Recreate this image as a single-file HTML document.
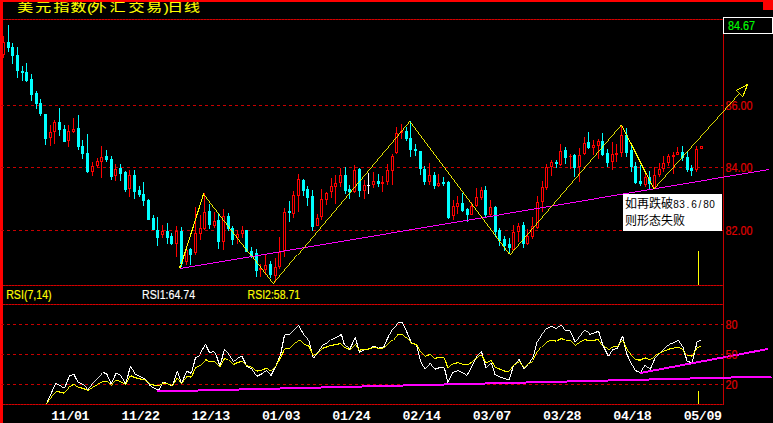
<!DOCTYPE html>
<html lang="zh"><head><meta charset="utf-8"><title>美元指数(外汇交易)日线</title>
<style>
html,body{margin:0;padding:0;background:#000;}
body{width:773px;height:423px;overflow:hidden;font-family:"Liberation Sans",sans-serif;position:relative;}
svg{display:block;position:absolute;left:0;top:0;}
</style></head><body>
<svg width="773" height="423" viewBox="0 0 773 423">
<g shape-rendering="crispEdges">
<rect width="773" height="423" fill="#000"/>
<rect x="0" y="0" width="773" height="2" fill="#ff0000"/>
<rect x="0" y="0" width="3" height="423" fill="#ff0000"/>
<rect x="763" y="0" width="10" height="10" fill="#ff0000"/>
<line x1="1" y1="105.5" x2="723" y2="105.5" stroke="#c80000" stroke-width="1" stroke-dasharray="3 3" stroke-dashoffset="0"/>
<line x1="1" y1="167.5" x2="723" y2="167.5" stroke="#c80000" stroke-width="1" stroke-dasharray="3 3" stroke-dashoffset="0"/>
<line x1="1" y1="230.5" x2="723" y2="230.5" stroke="#c80000" stroke-width="1" stroke-dasharray="3 3" stroke-dashoffset="0"/>
<line x1="1" y1="324.5" x2="723" y2="324.5" stroke="#c80000" stroke-width="1" stroke-dasharray="3 3" stroke-dashoffset="0"/>
<line x1="1" y1="354.5" x2="723" y2="354.5" stroke="#c80000" stroke-width="1" stroke-dasharray="3 3" stroke-dashoffset="0"/>
<line x1="1" y1="384.5" x2="723" y2="384.5" stroke="#c80000" stroke-width="1" stroke-dasharray="3 3" stroke-dashoffset="0"/>
<line x1="3" y1="19.5" x2="723" y2="19.5" stroke="#980000" stroke-width="1"/>
<line x1="3" y1="19.5" x2="723" y2="19.5" stroke="#d40000" stroke-width="1" stroke-dasharray="2 1"/>
<line x1="3" y1="285.5" x2="723" y2="285.5" stroke="#980000" stroke-width="1"/>
<line x1="3" y1="285.5" x2="723" y2="285.5" stroke="#d40000" stroke-width="1" stroke-dasharray="2 1"/>
<line x1="3" y1="304.5" x2="723" y2="304.5" stroke="#980000" stroke-width="1"/>
<line x1="3" y1="304.5" x2="723" y2="304.5" stroke="#d40000" stroke-width="1" stroke-dasharray="2 1"/>
<line x1="3" y1="404.5" x2="723" y2="404.5" stroke="#980000" stroke-width="1"/>
<line x1="3" y1="404.5" x2="723" y2="404.5" stroke="#d40000" stroke-width="1" stroke-dasharray="2 1"/>
<rect x="723" y="19" width="1" height="386" fill="#c80000"/>
<rect x="3" y="36" width="1" height="6" fill="#ff0000"/>
<rect x="3" y="55" width="1" height="3" fill="#ff0000"/>
<rect x="2" y="42" width="3" height="13" fill="#ff0000"/>
<rect x="3" y="43" width="1" height="11" fill="#000"/>
<rect x="8" y="25" width="1" height="27" fill="#00ffff"/>
<rect x="7" y="42" width="3" height="6" fill="#00ffff"/>
<rect x="12" y="43" width="1" height="21" fill="#00ffff"/>
<rect x="11" y="47" width="3" height="9" fill="#00ffff"/>
<rect x="17" y="47" width="1" height="31" fill="#00ffff"/>
<rect x="16" y="55" width="3" height="16" fill="#00ffff"/>
<rect x="22" y="66" width="1" height="15" fill="#00ffff"/>
<rect x="21" y="71" width="3" height="2" fill="#00ffff"/>
<rect x="26" y="63" width="1" height="19" fill="#00ffff"/>
<rect x="25" y="72" width="3" height="9" fill="#00ffff"/>
<rect x="31" y="74" width="1" height="27" fill="#00ffff"/>
<rect x="30" y="79" width="3" height="16" fill="#00ffff"/>
<rect x="36" y="91" width="1" height="18" fill="#00ffff"/>
<rect x="35" y="93" width="3" height="11" fill="#00ffff"/>
<rect x="40" y="99" width="1" height="17" fill="#00ffff"/>
<rect x="39" y="103" width="3" height="11" fill="#00ffff"/>
<rect x="45" y="114" width="1" height="31" fill="#00ffff"/>
<rect x="44" y="114" width="3" height="25" fill="#00ffff"/>
<rect x="50" y="125" width="1" height="7" fill="#ff0000"/>
<rect x="50" y="138" width="1" height="8" fill="#ff0000"/>
<rect x="49" y="132" width="3" height="6" fill="#ff0000"/>
<rect x="50" y="133" width="1" height="4" fill="#000"/>
<rect x="54" y="120" width="1" height="2" fill="#ff0000"/>
<rect x="54" y="132" width="1" height="12" fill="#ff0000"/>
<rect x="53" y="122" width="3" height="10" fill="#ff0000"/>
<rect x="54" y="123" width="1" height="8" fill="#000"/>
<rect x="59" y="108" width="1" height="28" fill="#00ffff"/>
<rect x="58" y="122" width="3" height="8" fill="#00ffff"/>
<rect x="64" y="125" width="1" height="17" fill="#00ffff"/>
<rect x="63" y="129" width="3" height="13" fill="#00ffff"/>
<rect x="68" y="125" width="1" height="6" fill="#ff0000"/>
<rect x="68" y="141" width="1" height="6" fill="#ff0000"/>
<rect x="67" y="131" width="3" height="10" fill="#ff0000"/>
<rect x="68" y="132" width="1" height="8" fill="#000"/>
<rect x="73" y="118" width="1" height="11" fill="#ff0000"/>
<rect x="73" y="132" width="1" height="1" fill="#ff0000"/>
<rect x="72" y="129" width="3" height="3" fill="#ff0000"/>
<rect x="73" y="130" width="1" height="1" fill="#000"/>
<rect x="78" y="115" width="1" height="35" fill="#00ffff"/>
<rect x="77" y="128" width="3" height="19" fill="#00ffff"/>
<rect x="82" y="140" width="1" height="19" fill="#00ffff"/>
<rect x="81" y="146" width="3" height="8" fill="#00ffff"/>
<rect x="87" y="134" width="1" height="39" fill="#00ffff"/>
<rect x="86" y="153" width="3" height="19" fill="#00ffff"/>
<rect x="92" y="162" width="1" height="4" fill="#ff0000"/>
<rect x="92" y="172" width="1" height="4" fill="#ff0000"/>
<rect x="91" y="166" width="3" height="6" fill="#ff0000"/>
<rect x="92" y="167" width="1" height="4" fill="#000"/>
<rect x="97" y="158" width="1" height="3" fill="#ff0000"/>
<rect x="97" y="166" width="1" height="2" fill="#ff0000"/>
<rect x="96" y="161" width="3" height="5" fill="#ff0000"/>
<rect x="97" y="162" width="1" height="3" fill="#000"/>
<rect x="101" y="146" width="1" height="11" fill="#ff0000"/>
<rect x="101" y="162" width="1" height="16" fill="#ff0000"/>
<rect x="100" y="157" width="3" height="5" fill="#ff0000"/>
<rect x="101" y="158" width="1" height="3" fill="#000"/>
<rect x="106" y="150" width="1" height="12" fill="#00ffff"/>
<rect x="105" y="156" width="3" height="4" fill="#00ffff"/>
<rect x="111" y="156" width="1" height="24" fill="#00ffff"/>
<rect x="110" y="159" width="3" height="18" fill="#00ffff"/>
<rect x="115" y="164" width="1" height="5" fill="#ff0000"/>
<rect x="115" y="176" width="1" height="5" fill="#ff0000"/>
<rect x="114" y="169" width="3" height="7" fill="#ff0000"/>
<rect x="115" y="170" width="1" height="5" fill="#000"/>
<rect x="120" y="164" width="1" height="17" fill="#00ffff"/>
<rect x="119" y="168" width="3" height="6" fill="#00ffff"/>
<rect x="125" y="171" width="1" height="21" fill="#00ffff"/>
<rect x="124" y="172" width="3" height="18" fill="#00ffff"/>
<rect x="129" y="170" width="1" height="5" fill="#ff0000"/>
<rect x="129" y="189" width="1" height="8" fill="#ff0000"/>
<rect x="128" y="175" width="3" height="14" fill="#ff0000"/>
<rect x="129" y="176" width="1" height="12" fill="#000"/>
<rect x="134" y="170" width="1" height="29" fill="#00ffff"/>
<rect x="133" y="175" width="3" height="17" fill="#00ffff"/>
<rect x="139" y="186" width="1" height="11" fill="#00ffff"/>
<rect x="138" y="190" width="3" height="5" fill="#00ffff"/>
<rect x="143" y="182" width="1" height="24" fill="#00ffff"/>
<rect x="142" y="194" width="3" height="7" fill="#00ffff"/>
<rect x="148" y="199" width="1" height="21" fill="#00ffff"/>
<rect x="147" y="200" width="3" height="20" fill="#00ffff"/>
<rect x="153" y="215" width="1" height="15" fill="#00ffff"/>
<rect x="152" y="218" width="3" height="12" fill="#00ffff"/>
<rect x="157" y="217" width="1" height="29" fill="#00ffff"/>
<rect x="156" y="230" width="3" height="8" fill="#00ffff"/>
<rect x="162" y="225" width="1" height="6" fill="#ff0000"/>
<rect x="162" y="235" width="1" height="3" fill="#ff0000"/>
<rect x="161" y="231" width="3" height="4" fill="#ff0000"/>
<rect x="162" y="232" width="1" height="2" fill="#000"/>
<rect x="167" y="223" width="1" height="21" fill="#00ffff"/>
<rect x="166" y="231" width="3" height="7" fill="#00ffff"/>
<rect x="171" y="233" width="1" height="12" fill="#00ffff"/>
<rect x="170" y="236" width="3" height="8" fill="#00ffff"/>
<rect x="176" y="226" width="1" height="5" fill="#ff0000"/>
<rect x="176" y="244" width="1" height="13" fill="#ff0000"/>
<rect x="175" y="231" width="3" height="13" fill="#ff0000"/>
<rect x="176" y="232" width="1" height="11" fill="#000"/>
<rect x="181" y="227" width="1" height="40" fill="#00ffff"/>
<rect x="180" y="231" width="3" height="33" fill="#00ffff"/>
<rect x="186" y="248" width="1" height="2" fill="#ff0000"/>
<rect x="186" y="262" width="1" height="3" fill="#ff0000"/>
<rect x="185" y="250" width="3" height="12" fill="#ff0000"/>
<rect x="186" y="251" width="1" height="10" fill="#000"/>
<rect x="190" y="248" width="1" height="17" fill="#00ffff"/>
<rect x="189" y="249" width="3" height="6" fill="#00ffff"/>
<rect x="195" y="207" width="1" height="26" fill="#ff0000"/>
<rect x="195" y="253" width="1" height="2" fill="#ff0000"/>
<rect x="194" y="233" width="3" height="20" fill="#ff0000"/>
<rect x="195" y="234" width="1" height="18" fill="#000"/>
<rect x="200" y="215" width="1" height="13" fill="#ff0000"/>
<rect x="200" y="234" width="1" height="6" fill="#ff0000"/>
<rect x="199" y="228" width="3" height="6" fill="#ff0000"/>
<rect x="200" y="229" width="1" height="4" fill="#000"/>
<rect x="204" y="193" width="1" height="19" fill="#ff0000"/>
<rect x="204" y="229" width="1" height="1" fill="#ff0000"/>
<rect x="203" y="212" width="3" height="17" fill="#ff0000"/>
<rect x="204" y="213" width="1" height="15" fill="#000"/>
<rect x="209" y="204" width="1" height="25" fill="#00ffff"/>
<rect x="208" y="211" width="3" height="14" fill="#00ffff"/>
<rect x="214" y="212" width="1" height="9" fill="#ff0000"/>
<rect x="214" y="226" width="1" height="2" fill="#ff0000"/>
<rect x="213" y="221" width="3" height="5" fill="#ff0000"/>
<rect x="214" y="222" width="1" height="3" fill="#000"/>
<rect x="218" y="213" width="1" height="36" fill="#00ffff"/>
<rect x="217" y="220" width="3" height="22" fill="#00ffff"/>
<rect x="223" y="209" width="1" height="7" fill="#ff0000"/>
<rect x="223" y="242" width="1" height="8" fill="#ff0000"/>
<rect x="222" y="216" width="3" height="26" fill="#ff0000"/>
<rect x="223" y="217" width="1" height="24" fill="#000"/>
<rect x="228" y="213" width="1" height="18" fill="#00ffff"/>
<rect x="227" y="216" width="3" height="13" fill="#00ffff"/>
<rect x="232" y="226" width="1" height="19" fill="#00ffff"/>
<rect x="231" y="228" width="3" height="12" fill="#00ffff"/>
<rect x="237" y="230" width="1" height="4" fill="#ff0000"/>
<rect x="237" y="238" width="1" height="6" fill="#ff0000"/>
<rect x="236" y="234" width="3" height="4" fill="#ff0000"/>
<rect x="237" y="235" width="1" height="2" fill="#000"/>
<rect x="242" y="226" width="1" height="4" fill="#ff0000"/>
<rect x="242" y="234" width="1" height="4" fill="#ff0000"/>
<rect x="241" y="230" width="3" height="4" fill="#ff0000"/>
<rect x="242" y="231" width="1" height="2" fill="#000"/>
<rect x="246" y="230" width="1" height="22" fill="#00ffff"/>
<rect x="245" y="230" width="3" height="22" fill="#00ffff"/>
<rect x="251" y="247" width="1" height="11" fill="#00ffff"/>
<rect x="250" y="251" width="3" height="5" fill="#00ffff"/>
<rect x="256" y="249" width="1" height="28" fill="#00ffff"/>
<rect x="255" y="253" width="3" height="18" fill="#00ffff"/>
<rect x="260" y="264" width="1" height="13" fill="#ff0000"/>
<rect x="259" y="268" width="3" height="2" fill="#ff0000"/>
<rect x="265" y="255" width="1" height="10" fill="#ff0000"/>
<rect x="265" y="270" width="1" height="5" fill="#ff0000"/>
<rect x="264" y="265" width="3" height="5" fill="#ff0000"/>
<rect x="265" y="266" width="1" height="3" fill="#000"/>
<rect x="270" y="261" width="1" height="17" fill="#00ffff"/>
<rect x="269" y="264" width="3" height="11" fill="#00ffff"/>
<rect x="275" y="258" width="1" height="9" fill="#ff0000"/>
<rect x="275" y="276" width="1" height="6" fill="#ff0000"/>
<rect x="274" y="267" width="3" height="9" fill="#ff0000"/>
<rect x="275" y="268" width="1" height="7" fill="#000"/>
<rect x="279" y="237" width="1" height="15" fill="#ff0000"/>
<rect x="279" y="267" width="1" height="2" fill="#ff0000"/>
<rect x="278" y="252" width="3" height="15" fill="#ff0000"/>
<rect x="279" y="253" width="1" height="13" fill="#000"/>
<rect x="284" y="208" width="1" height="4" fill="#ff0000"/>
<rect x="284" y="251" width="1" height="6" fill="#ff0000"/>
<rect x="283" y="212" width="3" height="39" fill="#ff0000"/>
<rect x="284" y="213" width="1" height="37" fill="#000"/>
<rect x="289" y="201" width="1" height="21" fill="#00ffff"/>
<rect x="288" y="211" width="3" height="2" fill="#00ffff"/>
<rect x="293" y="191" width="1" height="4" fill="#ff0000"/>
<rect x="293" y="214" width="1" height="4" fill="#ff0000"/>
<rect x="292" y="195" width="3" height="19" fill="#ff0000"/>
<rect x="293" y="196" width="1" height="17" fill="#000"/>
<rect x="298" y="174" width="1" height="5" fill="#ff0000"/>
<rect x="298" y="196" width="1" height="16" fill="#ff0000"/>
<rect x="297" y="179" width="3" height="17" fill="#ff0000"/>
<rect x="298" y="180" width="1" height="15" fill="#000"/>
<rect x="303" y="179" width="1" height="17" fill="#00ffff"/>
<rect x="302" y="180" width="3" height="11" fill="#00ffff"/>
<rect x="307" y="186" width="1" height="20" fill="#00ffff"/>
<rect x="306" y="189" width="3" height="9" fill="#00ffff"/>
<rect x="312" y="190" width="1" height="41" fill="#00ffff"/>
<rect x="311" y="196" width="3" height="31" fill="#00ffff"/>
<rect x="317" y="214" width="1" height="4" fill="#ff0000"/>
<rect x="316" y="218" width="3" height="8" fill="#ff0000"/>
<rect x="317" y="219" width="1" height="6" fill="#000"/>
<rect x="321" y="189" width="1" height="10" fill="#ff0000"/>
<rect x="321" y="217" width="1" height="3" fill="#ff0000"/>
<rect x="320" y="199" width="3" height="18" fill="#ff0000"/>
<rect x="321" y="200" width="1" height="16" fill="#000"/>
<rect x="326" y="192" width="1" height="1" fill="#ff0000"/>
<rect x="326" y="200" width="1" height="5" fill="#ff0000"/>
<rect x="325" y="193" width="3" height="7" fill="#ff0000"/>
<rect x="326" y="194" width="1" height="5" fill="#000"/>
<rect x="331" y="178" width="1" height="8" fill="#ff0000"/>
<rect x="331" y="192" width="1" height="6" fill="#ff0000"/>
<rect x="330" y="186" width="3" height="6" fill="#ff0000"/>
<rect x="331" y="187" width="1" height="4" fill="#000"/>
<rect x="335" y="175" width="1" height="8" fill="#ff0000"/>
<rect x="335" y="187" width="1" height="17" fill="#ff0000"/>
<rect x="334" y="183" width="3" height="4" fill="#ff0000"/>
<rect x="335" y="184" width="1" height="2" fill="#000"/>
<rect x="340" y="168" width="1" height="7" fill="#ff0000"/>
<rect x="340" y="183" width="1" height="4" fill="#ff0000"/>
<rect x="339" y="175" width="3" height="8" fill="#ff0000"/>
<rect x="340" y="176" width="1" height="6" fill="#000"/>
<rect x="345" y="167" width="1" height="27" fill="#00ffff"/>
<rect x="344" y="175" width="3" height="16" fill="#00ffff"/>
<rect x="349" y="185" width="1" height="14" fill="#00ffff"/>
<rect x="348" y="189" width="3" height="3" fill="#00ffff"/>
<rect x="354" y="165" width="1" height="5" fill="#ff0000"/>
<rect x="354" y="192" width="1" height="1" fill="#ff0000"/>
<rect x="353" y="170" width="3" height="22" fill="#ff0000"/>
<rect x="354" y="171" width="1" height="20" fill="#000"/>
<rect x="359" y="168" width="1" height="29" fill="#00ffff"/>
<rect x="358" y="169" width="3" height="22" fill="#00ffff"/>
<rect x="364" y="180" width="1" height="5" fill="#ff0000"/>
<rect x="364" y="191" width="1" height="8" fill="#ff0000"/>
<rect x="363" y="185" width="3" height="6" fill="#ff0000"/>
<rect x="364" y="186" width="1" height="4" fill="#000"/>
<rect x="368" y="173" width="1" height="21" fill="#ffffff"/>
<rect x="367" y="185" width="3" height="1" fill="#ffffff"/>
<rect x="373" y="172" width="1" height="9" fill="#ff0000"/>
<rect x="373" y="185" width="1" height="3" fill="#ff0000"/>
<rect x="372" y="181" width="3" height="4" fill="#ff0000"/>
<rect x="373" y="182" width="1" height="2" fill="#000"/>
<rect x="378" y="174" width="1" height="13" fill="#00ffff"/>
<rect x="377" y="181" width="3" height="3" fill="#00ffff"/>
<rect x="382" y="176" width="1" height="16" fill="#ff0000"/>
<rect x="381" y="182" width="3" height="2" fill="#ff0000"/>
<rect x="387" y="164" width="1" height="6" fill="#ff0000"/>
<rect x="387" y="182" width="1" height="3" fill="#ff0000"/>
<rect x="386" y="170" width="3" height="12" fill="#ff0000"/>
<rect x="387" y="171" width="1" height="10" fill="#000"/>
<rect x="392" y="154" width="1" height="2" fill="#ff0000"/>
<rect x="392" y="171" width="1" height="14" fill="#ff0000"/>
<rect x="391" y="156" width="3" height="15" fill="#ff0000"/>
<rect x="392" y="157" width="1" height="13" fill="#000"/>
<rect x="396" y="127" width="1" height="6" fill="#ff0000"/>
<rect x="396" y="153" width="1" height="1" fill="#ff0000"/>
<rect x="395" y="133" width="3" height="20" fill="#ff0000"/>
<rect x="396" y="134" width="1" height="18" fill="#000"/>
<rect x="401" y="124" width="1" height="15" fill="#ff0000"/>
<rect x="400" y="131" width="3" height="2" fill="#ff0000"/>
<rect x="406" y="127" width="1" height="14" fill="#00ffff"/>
<rect x="405" y="131" width="3" height="8" fill="#00ffff"/>
<rect x="410" y="121" width="1" height="36" fill="#00ffff"/>
<rect x="409" y="138" width="3" height="12" fill="#00ffff"/>
<rect x="415" y="144" width="1" height="12" fill="#00ffff"/>
<rect x="414" y="149" width="3" height="2" fill="#00ffff"/>
<rect x="420" y="151" width="1" height="24" fill="#00ffff"/>
<rect x="419" y="151" width="3" height="18" fill="#00ffff"/>
<rect x="424" y="166" width="1" height="19" fill="#00ffff"/>
<rect x="423" y="169" width="3" height="13" fill="#00ffff"/>
<rect x="429" y="163" width="1" height="12" fill="#ff0000"/>
<rect x="429" y="182" width="1" height="3" fill="#ff0000"/>
<rect x="428" y="175" width="3" height="7" fill="#ff0000"/>
<rect x="429" y="176" width="1" height="5" fill="#000"/>
<rect x="434" y="172" width="1" height="17" fill="#00ffff"/>
<rect x="433" y="175" width="3" height="11" fill="#00ffff"/>
<rect x="438" y="174" width="1" height="9" fill="#ff0000"/>
<rect x="438" y="186" width="1" height="1" fill="#ff0000"/>
<rect x="437" y="183" width="3" height="3" fill="#ff0000"/>
<rect x="438" y="184" width="1" height="1" fill="#000"/>
<rect x="443" y="177" width="1" height="9" fill="#00ffff"/>
<rect x="442" y="182" width="3" height="2" fill="#00ffff"/>
<rect x="448" y="181" width="1" height="38" fill="#00ffff"/>
<rect x="447" y="182" width="3" height="36" fill="#00ffff"/>
<rect x="453" y="200" width="1" height="6" fill="#ff0000"/>
<rect x="453" y="216" width="1" height="4" fill="#ff0000"/>
<rect x="452" y="206" width="3" height="10" fill="#ff0000"/>
<rect x="453" y="207" width="1" height="8" fill="#000"/>
<rect x="457" y="196" width="1" height="7" fill="#ff0000"/>
<rect x="457" y="207" width="1" height="7" fill="#ff0000"/>
<rect x="456" y="203" width="3" height="4" fill="#ff0000"/>
<rect x="457" y="204" width="1" height="2" fill="#000"/>
<rect x="462" y="193" width="1" height="19" fill="#00ffff"/>
<rect x="461" y="203" width="3" height="8" fill="#00ffff"/>
<rect x="467" y="208" width="1" height="14" fill="#00ffff"/>
<rect x="466" y="209" width="3" height="6" fill="#00ffff"/>
<rect x="471" y="202" width="1" height="4" fill="#ff0000"/>
<rect x="470" y="206" width="3" height="9" fill="#ff0000"/>
<rect x="471" y="207" width="1" height="7" fill="#000"/>
<rect x="476" y="188" width="1" height="9" fill="#ff0000"/>
<rect x="476" y="206" width="1" height="1" fill="#ff0000"/>
<rect x="475" y="197" width="3" height="9" fill="#ff0000"/>
<rect x="476" y="198" width="1" height="7" fill="#000"/>
<rect x="481" y="187" width="1" height="3" fill="#ff0000"/>
<rect x="481" y="198" width="1" height="2" fill="#ff0000"/>
<rect x="480" y="190" width="3" height="8" fill="#ff0000"/>
<rect x="481" y="191" width="1" height="6" fill="#000"/>
<rect x="485" y="186" width="1" height="32" fill="#00ffff"/>
<rect x="484" y="190" width="3" height="25" fill="#00ffff"/>
<rect x="490" y="200" width="1" height="7" fill="#ff0000"/>
<rect x="490" y="215" width="1" height="1" fill="#ff0000"/>
<rect x="489" y="207" width="3" height="8" fill="#ff0000"/>
<rect x="490" y="208" width="1" height="6" fill="#000"/>
<rect x="495" y="206" width="1" height="31" fill="#00ffff"/>
<rect x="494" y="207" width="3" height="25" fill="#00ffff"/>
<rect x="499" y="228" width="1" height="18" fill="#00ffff"/>
<rect x="498" y="230" width="3" height="11" fill="#00ffff"/>
<rect x="504" y="236" width="1" height="15" fill="#00ffff"/>
<rect x="503" y="239" width="3" height="7" fill="#00ffff"/>
<rect x="509" y="238" width="1" height="15" fill="#00ffff"/>
<rect x="508" y="244" width="3" height="4" fill="#00ffff"/>
<rect x="513" y="225" width="1" height="7" fill="#ff0000"/>
<rect x="512" y="232" width="3" height="18" fill="#ff0000"/>
<rect x="513" y="233" width="1" height="16" fill="#000"/>
<rect x="518" y="223" width="1" height="3" fill="#ff0000"/>
<rect x="518" y="232" width="1" height="10" fill="#ff0000"/>
<rect x="517" y="226" width="3" height="6" fill="#ff0000"/>
<rect x="518" y="227" width="1" height="4" fill="#000"/>
<rect x="523" y="222" width="1" height="26" fill="#00ffff"/>
<rect x="522" y="225" width="3" height="19" fill="#00ffff"/>
<rect x="527" y="229" width="1" height="7" fill="#ff0000"/>
<rect x="527" y="244" width="1" height="1" fill="#ff0000"/>
<rect x="526" y="236" width="3" height="8" fill="#ff0000"/>
<rect x="527" y="237" width="1" height="6" fill="#000"/>
<rect x="532" y="217" width="1" height="9" fill="#ff0000"/>
<rect x="532" y="237" width="1" height="2" fill="#ff0000"/>
<rect x="531" y="226" width="3" height="11" fill="#ff0000"/>
<rect x="532" y="227" width="1" height="9" fill="#000"/>
<rect x="537" y="196" width="1" height="6" fill="#ff0000"/>
<rect x="537" y="228" width="1" height="1" fill="#ff0000"/>
<rect x="536" y="202" width="3" height="26" fill="#ff0000"/>
<rect x="537" y="203" width="1" height="24" fill="#000"/>
<rect x="542" y="181" width="1" height="6" fill="#ff0000"/>
<rect x="542" y="202" width="1" height="10" fill="#ff0000"/>
<rect x="541" y="187" width="3" height="15" fill="#ff0000"/>
<rect x="542" y="188" width="1" height="13" fill="#000"/>
<rect x="546" y="164" width="1" height="3" fill="#ff0000"/>
<rect x="546" y="188" width="1" height="2" fill="#ff0000"/>
<rect x="545" y="167" width="3" height="21" fill="#ff0000"/>
<rect x="546" y="168" width="1" height="19" fill="#000"/>
<rect x="551" y="160" width="1" height="2" fill="#ff0000"/>
<rect x="551" y="167" width="1" height="9" fill="#ff0000"/>
<rect x="550" y="162" width="3" height="5" fill="#ff0000"/>
<rect x="551" y="163" width="1" height="3" fill="#000"/>
<rect x="556" y="160" width="1" height="8" fill="#00ffff"/>
<rect x="555" y="162" width="3" height="2" fill="#00ffff"/>
<rect x="560" y="144" width="1" height="7" fill="#ff0000"/>
<rect x="560" y="165" width="1" height="1" fill="#ff0000"/>
<rect x="559" y="151" width="3" height="14" fill="#ff0000"/>
<rect x="560" y="152" width="1" height="12" fill="#000"/>
<rect x="565" y="147" width="1" height="17" fill="#00ffff"/>
<rect x="564" y="150" width="3" height="8" fill="#00ffff"/>
<rect x="570" y="154" width="1" height="15" fill="#ff0000"/>
<rect x="569" y="156" width="3" height="1" fill="#ff0000"/>
<rect x="574" y="154" width="1" height="23" fill="#00ffff"/>
<rect x="573" y="155" width="3" height="13" fill="#00ffff"/>
<rect x="579" y="148" width="1" height="7" fill="#ff0000"/>
<rect x="579" y="167" width="1" height="15" fill="#ff0000"/>
<rect x="578" y="155" width="3" height="12" fill="#ff0000"/>
<rect x="579" y="156" width="1" height="10" fill="#000"/>
<rect x="584" y="137" width="1" height="6" fill="#ff0000"/>
<rect x="584" y="154" width="1" height="1" fill="#ff0000"/>
<rect x="583" y="143" width="3" height="11" fill="#ff0000"/>
<rect x="584" y="144" width="1" height="9" fill="#000"/>
<rect x="588" y="132" width="1" height="17" fill="#00ffff"/>
<rect x="587" y="142" width="3" height="6" fill="#00ffff"/>
<rect x="593" y="140" width="1" height="5" fill="#ff0000"/>
<rect x="593" y="148" width="1" height="7" fill="#ff0000"/>
<rect x="592" y="145" width="3" height="3" fill="#ff0000"/>
<rect x="593" y="146" width="1" height="1" fill="#000"/>
<rect x="598" y="139" width="1" height="2" fill="#ff0000"/>
<rect x="598" y="146" width="1" height="13" fill="#ff0000"/>
<rect x="597" y="141" width="3" height="5" fill="#ff0000"/>
<rect x="598" y="142" width="1" height="3" fill="#000"/>
<rect x="602" y="133" width="1" height="23" fill="#00ffff"/>
<rect x="601" y="141" width="3" height="14" fill="#00ffff"/>
<rect x="607" y="149" width="1" height="18" fill="#00ffff"/>
<rect x="606" y="153" width="3" height="10" fill="#00ffff"/>
<rect x="612" y="142" width="1" height="12" fill="#ff0000"/>
<rect x="612" y="162" width="1" height="8" fill="#ff0000"/>
<rect x="611" y="154" width="3" height="8" fill="#ff0000"/>
<rect x="612" y="155" width="1" height="6" fill="#000"/>
<rect x="616" y="144" width="1" height="18" fill="#ff0000"/>
<rect x="615" y="153" width="3" height="2" fill="#ff0000"/>
<rect x="621" y="125" width="1" height="10" fill="#ff0000"/>
<rect x="621" y="153" width="1" height="4" fill="#ff0000"/>
<rect x="620" y="135" width="3" height="18" fill="#ff0000"/>
<rect x="621" y="136" width="1" height="16" fill="#000"/>
<rect x="626" y="128" width="1" height="29" fill="#00ffff"/>
<rect x="625" y="135" width="3" height="18" fill="#00ffff"/>
<rect x="631" y="145" width="1" height="27" fill="#00ffff"/>
<rect x="630" y="150" width="3" height="17" fill="#00ffff"/>
<rect x="635" y="162" width="1" height="22" fill="#00ffff"/>
<rect x="634" y="166" width="3" height="17" fill="#00ffff"/>
<rect x="640" y="165" width="1" height="21" fill="#00ffff"/>
<rect x="639" y="181" width="3" height="3" fill="#00ffff"/>
<rect x="645" y="174" width="1" height="3" fill="#ff0000"/>
<rect x="645" y="185" width="1" height="2" fill="#ff0000"/>
<rect x="644" y="177" width="3" height="8" fill="#ff0000"/>
<rect x="645" y="178" width="1" height="6" fill="#000"/>
<rect x="649" y="171" width="1" height="18" fill="#00ffff"/>
<rect x="648" y="177" width="3" height="7" fill="#00ffff"/>
<rect x="654" y="167" width="1" height="8" fill="#ff0000"/>
<rect x="653" y="175" width="3" height="13" fill="#ff0000"/>
<rect x="654" y="176" width="1" height="11" fill="#000"/>
<rect x="659" y="163" width="1" height="6" fill="#ff0000"/>
<rect x="659" y="175" width="1" height="2" fill="#ff0000"/>
<rect x="658" y="169" width="3" height="6" fill="#ff0000"/>
<rect x="659" y="170" width="1" height="4" fill="#000"/>
<rect x="663" y="156" width="1" height="7" fill="#ff0000"/>
<rect x="663" y="169" width="1" height="3" fill="#ff0000"/>
<rect x="662" y="163" width="3" height="6" fill="#ff0000"/>
<rect x="663" y="164" width="1" height="4" fill="#000"/>
<rect x="668" y="154" width="1" height="2" fill="#ff0000"/>
<rect x="668" y="163" width="1" height="3" fill="#ff0000"/>
<rect x="667" y="156" width="3" height="7" fill="#ff0000"/>
<rect x="668" y="157" width="1" height="5" fill="#000"/>
<rect x="673" y="152" width="1" height="22" fill="#ff0000"/>
<rect x="672" y="155" width="3" height="2" fill="#ff0000"/>
<rect x="677" y="147" width="1" height="5" fill="#ff0000"/>
<rect x="676" y="152" width="3" height="3" fill="#ff0000"/>
<rect x="677" y="153" width="1" height="1" fill="#000"/>
<rect x="682" y="146" width="1" height="15" fill="#00ffff"/>
<rect x="681" y="152" width="3" height="6" fill="#00ffff"/>
<rect x="687" y="151" width="1" height="21" fill="#00ffff"/>
<rect x="686" y="157" width="3" height="13" fill="#00ffff"/>
<rect x="691" y="165" width="1" height="11" fill="#00ffff"/>
<rect x="690" y="168" width="3" height="3" fill="#00ffff"/>
<rect x="696" y="146" width="1" height="3" fill="#ff0000"/>
<rect x="696" y="170" width="1" height="2" fill="#ff0000"/>
<rect x="695" y="149" width="3" height="21" fill="#ff0000"/>
<rect x="696" y="150" width="1" height="19" fill="#000"/>
<rect x="700" y="146" width="3" height="3" fill="#ff0000"/>
<rect x="701" y="147" width="1" height="1" fill="#000"/>
<line x1="180.3" y1="268.53" x2="768.7" y2="169.54" stroke="#ff00ff" stroke-width="0.986"/>
<line x1="180.3" y1="267.5" x2="203.7" y2="193.5" stroke="#ffff00" stroke-width="1.096"/>
<line x1="203.7" y1="193.5" x2="273.2" y2="283.5" stroke="#ffff00" stroke-width="0.910"/>
<line x1="273.2" y1="283.5" x2="409.8" y2="120.5" stroke="#ffff00" stroke-width="0.881"/>
<line x1="409.8" y1="120.5" x2="510.4" y2="254.5" stroke="#ffff00" stroke-width="0.920"/>
<line x1="510.4" y1="254.5" x2="621.5" y2="124.8" stroke="#ffff00" stroke-width="0.873"/>
<line x1="621.5" y1="124.8" x2="653.9" y2="189" stroke="#ffff00" stroke-width="1.027"/>
<rect x="179" y="266" width="2" height="2" fill="#ffff00"/>
<line x1="747.8" y1="84.4" x2="736.4" y2="90.5" stroke="#ffff00" stroke-width="1.014"/>
<line x1="736.4" y1="90.5" x2="742.6" y2="96.7" stroke="#ffff00" stroke-width="0.813"/>
<line x1="742.6" y1="96.7" x2="747.8" y2="84.4" stroke="#ffff00" stroke-width="1.059"/>
<rect x="698" y="251" width="1" height="34" fill="#ffff00"/>
<rect x="698" y="391" width="1" height="13" fill="#ffff00"/>
<rect x="623" y="194" width="99" height="37" fill="#ffffff"/>
<line x1="46.6" y1="403.7" x2="55.7" y2="383.3" stroke="#ffffff" stroke-width="1.050"/>
<line x1="55.7" y1="383.3" x2="60.3" y2="385.5" stroke="#ffffff" stroke-width="1.037"/>
<line x1="60.3" y1="385.5" x2="64.4" y2="388.3" stroke="#ffffff" stroke-width="0.950"/>
<line x1="64.4" y1="388.3" x2="69.4" y2="376" stroke="#ffffff" stroke-width="1.065"/>
<line x1="69.4" y1="376" x2="73.9" y2="374.4" stroke="#ffffff" stroke-width="1.084"/>
<line x1="73.9" y1="374.4" x2="78" y2="382.2" stroke="#ffffff" stroke-width="1.018"/>
<line x1="78" y1="382.2" x2="83" y2="384.3" stroke="#ffffff" stroke-width="1.060"/>
<line x1="83" y1="384.3" x2="88" y2="389.6" stroke="#ffffff" stroke-width="0.837"/>
<line x1="88" y1="389.6" x2="92.9" y2="383" stroke="#ffffff" stroke-width="0.923"/>
<line x1="92.9" y1="383" x2="97.9" y2="377.7" stroke="#ffffff" stroke-width="0.837"/>
<line x1="97.9" y1="377.7" x2="102.8" y2="372.7" stroke="#ffffff" stroke-width="0.821"/>
<line x1="102.8" y1="372.7" x2="106.5" y2="373.4" stroke="#ffffff" stroke-width="1.130"/>
<line x1="106.5" y1="373.4" x2="111.1" y2="383.8" stroke="#ffffff" stroke-width="1.052"/>
<line x1="111.1" y1="383.8" x2="116.1" y2="373.4" stroke="#ffffff" stroke-width="1.036"/>
<line x1="116.1" y1="373.4" x2="120.2" y2="374.7" stroke="#ffffff" stroke-width="1.096"/>
<line x1="120.2" y1="374.7" x2="125.7" y2="383.8" stroke="#ffffff" stroke-width="0.984"/>
<line x1="125.7" y1="383.8" x2="130.5" y2="366.1" stroke="#ffffff" stroke-width="1.110"/>
<line x1="130.5" y1="366.1" x2="135.1" y2="373.9" stroke="#ffffff" stroke-width="0.991"/>
<line x1="135.1" y1="373.9" x2="140.1" y2="376.4" stroke="#ffffff" stroke-width="1.029"/>
<line x1="140.1" y1="376.4" x2="145.1" y2="378.9" stroke="#ffffff" stroke-width="1.029"/>
<line x1="145.1" y1="378.9" x2="150" y2="385.7" stroke="#ffffff" stroke-width="0.933"/>
<line x1="150" y1="385.7" x2="155" y2="388.8" stroke="#ffffff" stroke-width="0.977"/>
<line x1="155" y1="388.8" x2="159.1" y2="389.6" stroke="#ffffff" stroke-width="1.129"/>
<line x1="159.1" y1="389.6" x2="163.2" y2="382.2" stroke="#ffffff" stroke-width="1.006"/>
<line x1="163.2" y1="382.2" x2="167.4" y2="383.8" stroke="#ffffff" stroke-width="1.075"/>
<line x1="167.4" y1="383.8" x2="172.4" y2="386.3" stroke="#ffffff" stroke-width="1.029"/>
<line x1="172.4" y1="386.3" x2="177.3" y2="371.1" stroke="#ffffff" stroke-width="1.095"/>
<line x1="177.3" y1="371.1" x2="181.5" y2="383.3" stroke="#ffffff" stroke-width="1.087"/>
<line x1="181.5" y1="383.3" x2="186.8" y2="371.1" stroke="#ffffff" stroke-width="1.055"/>
<line x1="186.8" y1="371.1" x2="191.4" y2="373.4" stroke="#ffffff" stroke-width="1.029"/>
<line x1="191.4" y1="373.4" x2="195.5" y2="357.4" stroke="#ffffff" stroke-width="1.114"/>
<line x1="195.5" y1="357.4" x2="199.7" y2="354.5" stroke="#ffffff" stroke-width="0.946"/>
<line x1="199.7" y1="354.5" x2="205.5" y2="344.1" stroke="#ffffff" stroke-width="1.004"/>
<line x1="205.5" y1="344.1" x2="209.6" y2="352.9" stroke="#ffffff" stroke-width="1.042"/>
<line x1="209.6" y1="352.9" x2="213.7" y2="351.2" stroke="#ffffff" stroke-width="1.062"/>
<line x1="213.7" y1="351.2" x2="216.2" y2="354.9" stroke="#ffffff" stroke-width="0.953"/>
<line x1="216.2" y1="354.9" x2="219.9" y2="366.1" stroke="#ffffff" stroke-width="1.092"/>
<line x1="219.9" y1="366.1" x2="224.5" y2="349.1" stroke="#ffffff" stroke-width="1.110"/>
<line x1="224.5" y1="349.1" x2="228.6" y2="354" stroke="#ffffff" stroke-width="0.882"/>
<line x1="228.6" y1="354" x2="233.6" y2="361.8" stroke="#ffffff" stroke-width="0.968"/>
<line x1="233.6" y1="361.8" x2="237.7" y2="358.2" stroke="#ffffff" stroke-width="0.864"/>
<line x1="237.7" y1="358.2" x2="241.9" y2="356.2" stroke="#ffffff" stroke-width="1.038"/>
<line x1="241.9" y1="356.2" x2="246.9" y2="366.5" stroke="#ffffff" stroke-width="1.035"/>
<line x1="246.9" y1="366.5" x2="251.8" y2="368.9" stroke="#ffffff" stroke-width="1.033"/>
<line x1="251.8" y1="368.9" x2="256.8" y2="376.4" stroke="#ffffff" stroke-width="0.957"/>
<line x1="256.8" y1="376.4" x2="261.8" y2="373.9" stroke="#ffffff" stroke-width="1.029"/>
<line x1="261.8" y1="373.9" x2="266.7" y2="370.1" stroke="#ffffff" stroke-width="0.909"/>
<line x1="266.7" y1="370.1" x2="270.9" y2="375.6" stroke="#ffffff" stroke-width="0.914"/>
<line x1="270.9" y1="375.6" x2="276.6" y2="364.7" stroke="#ffffff" stroke-width="1.019"/>
<line x1="276.6" y1="364.7" x2="280.8" y2="353.9" stroke="#ffffff" stroke-width="1.072"/>
<line x1="280.8" y1="353.9" x2="284.6" y2="334.9" stroke="#ffffff" stroke-width="1.128"/>
<line x1="284.6" y1="334.9" x2="289.9" y2="334.5" stroke="#ffffff" stroke-width="1.147"/>
<line x1="289.9" y1="334.5" x2="298.5" y2="325.3" stroke="#ffffff" stroke-width="0.840"/>
<line x1="298.5" y1="325.3" x2="303.9" y2="334.9" stroke="#ffffff" stroke-width="1.002"/>
<line x1="303.9" y1="334.9" x2="308.9" y2="340.7" stroke="#ffffff" stroke-width="0.871"/>
<line x1="308.9" y1="340.7" x2="313.4" y2="358.4" stroke="#ffffff" stroke-width="1.115"/>
<line x1="313.4" y1="358.4" x2="318" y2="352.3" stroke="#ffffff" stroke-width="0.918"/>
<line x1="318" y1="352.3" x2="322.6" y2="345.1" stroke="#ffffff" stroke-width="0.969"/>
<line x1="322.6" y1="345.1" x2="327.1" y2="343.1" stroke="#ffffff" stroke-width="1.051"/>
<line x1="327.1" y1="343.1" x2="330.4" y2="340.2" stroke="#ffffff" stroke-width="0.864"/>
<line x1="330.4" y1="340.2" x2="336.2" y2="337.4" stroke="#ffffff" stroke-width="1.036"/>
<line x1="336.2" y1="337.4" x2="341.5" y2="334.5" stroke="#ffffff" stroke-width="1.009"/>
<line x1="341.5" y1="334.5" x2="344.5" y2="345.1" stroke="#ffffff" stroke-width="1.107"/>
<line x1="344.5" y1="345.1" x2="349.5" y2="349.8" stroke="#ffffff" stroke-width="0.838"/>
<line x1="349.5" y1="349.8" x2="355.3" y2="337.4" stroke="#ffffff" stroke-width="1.042"/>
<line x1="355.3" y1="337.4" x2="359.4" y2="352.3" stroke="#ffffff" stroke-width="1.109"/>
<line x1="359.4" y1="352.3" x2="364.4" y2="349.8" stroke="#ffffff" stroke-width="1.029"/>
<line x1="364.4" y1="349.8" x2="369.3" y2="348.9" stroke="#ffffff" stroke-width="1.131"/>
<line x1="369.3" y1="348.9" x2="374" y2="346.1" stroke="#ffffff" stroke-width="0.988"/>
<line x1="374" y1="346.1" x2="378.4" y2="348.1" stroke="#ffffff" stroke-width="1.047"/>
<line x1="378.4" y1="348.1" x2="383.4" y2="347.8" stroke="#ffffff" stroke-width="1.148"/>
<line x1="383.4" y1="347.8" x2="388.4" y2="336.5" stroke="#ffffff" stroke-width="1.052"/>
<line x1="388.4" y1="336.5" x2="393.3" y2="328.2" stroke="#ffffff" stroke-width="0.990"/>
<line x1="393.3" y1="328.2" x2="397.5" y2="322.5" stroke="#ffffff" stroke-width="0.926"/>
<line x1="397.5" y1="322.5" x2="402.4" y2="322.5" stroke="#ffffff" stroke-width="1.150"/>
<line x1="402.4" y1="322.5" x2="406.6" y2="331.6" stroke="#ffffff" stroke-width="1.044"/>
<line x1="406.6" y1="331.6" x2="411.5" y2="343.1" stroke="#ffffff" stroke-width="1.058"/>
<line x1="411.5" y1="343.1" x2="416.5" y2="344.8" stroke="#ffffff" stroke-width="1.089"/>
<line x1="416.5" y1="344.8" x2="420.6" y2="361.4" stroke="#ffffff" stroke-width="1.116"/>
<line x1="420.6" y1="361.4" x2="425.1" y2="369.3" stroke="#ffffff" stroke-width="0.999"/>
<line x1="425.1" y1="369.3" x2="430.1" y2="363.3" stroke="#ffffff" stroke-width="0.883"/>
<line x1="430.1" y1="363.3" x2="434.7" y2="369.3" stroke="#ffffff" stroke-width="0.913"/>
<line x1="434.7" y1="369.3" x2="439.7" y2="367.6" stroke="#ffffff" stroke-width="1.089"/>
<line x1="439.7" y1="367.6" x2="444.3" y2="367.6" stroke="#ffffff" stroke-width="1.150"/>
<line x1="444.3" y1="367.6" x2="447.9" y2="382.5" stroke="#ffffff" stroke-width="1.118"/>
<line x1="447.9" y1="382.5" x2="452.9" y2="372.6" stroke="#ffffff" stroke-width="1.027"/>
<line x1="452.9" y1="372.6" x2="457.9" y2="370.5" stroke="#ffffff" stroke-width="1.060"/>
<line x1="457.9" y1="370.5" x2="462.8" y2="372.9" stroke="#ffffff" stroke-width="1.033"/>
<line x1="462.8" y1="372.9" x2="467" y2="375.4" stroke="#ffffff" stroke-width="0.988"/>
<line x1="467" y1="375.4" x2="472" y2="366.3" stroke="#ffffff" stroke-width="1.008"/>
<line x1="472" y1="366.3" x2="476.9" y2="356.4" stroke="#ffffff" stroke-width="1.031"/>
<line x1="476.9" y1="356.4" x2="481.4" y2="351.4" stroke="#ffffff" stroke-width="0.855"/>
<line x1="481.4" y1="351.4" x2="486" y2="368.3" stroke="#ffffff" stroke-width="1.110"/>
<line x1="486" y1="368.3" x2="491.3" y2="363" stroke="#ffffff" stroke-width="0.813"/>
<line x1="491.3" y1="363" x2="495.1" y2="374.6" stroke="#ffffff" stroke-width="1.093"/>
<line x1="495.1" y1="374.6" x2="500.1" y2="377.1" stroke="#ffffff" stroke-width="1.029"/>
<line x1="500.1" y1="377.1" x2="505.1" y2="378.7" stroke="#ffffff" stroke-width="1.095"/>
<line x1="505.1" y1="378.7" x2="509.2" y2="379.9" stroke="#ffffff" stroke-width="1.104"/>
<line x1="509.2" y1="379.9" x2="513.5" y2="365.5" stroke="#ffffff" stroke-width="1.102"/>
<line x1="513.5" y1="365.5" x2="519.1" y2="359.4" stroke="#ffffff" stroke-width="0.847"/>
<line x1="519.1" y1="359.4" x2="524.1" y2="369.3" stroke="#ffffff" stroke-width="1.027"/>
<line x1="524.1" y1="369.3" x2="528.5" y2="363.8" stroke="#ffffff" stroke-width="0.898"/>
<line x1="528.5" y1="363.8" x2="533.2" y2="357.2" stroke="#ffffff" stroke-width="0.937"/>
<line x1="533.2" y1="357.2" x2="537.3" y2="340.7" stroke="#ffffff" stroke-width="1.116"/>
<line x1="537.3" y1="340.7" x2="541.5" y2="334.5" stroke="#ffffff" stroke-width="0.952"/>
<line x1="541.5" y1="334.5" x2="546.1" y2="329.1" stroke="#ffffff" stroke-width="0.875"/>
<line x1="546.1" y1="329.1" x2="551.1" y2="326.3" stroke="#ffffff" stroke-width="1.003"/>
<line x1="551.1" y1="326.3" x2="556.4" y2="328.6" stroke="#ffffff" stroke-width="1.055"/>
<line x1="556.4" y1="328.6" x2="561.3" y2="324.6" stroke="#ffffff" stroke-width="0.891"/>
<line x1="561.3" y1="324.6" x2="565.5" y2="330.7" stroke="#ffffff" stroke-width="0.947"/>
<line x1="565.5" y1="330.7" x2="569.9" y2="330.7" stroke="#ffffff" stroke-width="1.150"/>
<line x1="569.9" y1="330.7" x2="575.4" y2="342.3" stroke="#ffffff" stroke-width="1.039"/>
<line x1="575.4" y1="342.3" x2="579.9" y2="336.2" stroke="#ffffff" stroke-width="0.925"/>
<line x1="579.9" y1="336.2" x2="584.5" y2="330.2" stroke="#ffffff" stroke-width="0.913"/>
<line x1="584.5" y1="330.2" x2="589.5" y2="334.5" stroke="#ffffff" stroke-width="0.872"/>
<line x1="589.5" y1="334.5" x2="594.4" y2="332.9" stroke="#ffffff" stroke-width="1.093"/>
<line x1="594.4" y1="332.9" x2="598.6" y2="331.2" stroke="#ffffff" stroke-width="1.066"/>
<line x1="598.6" y1="331.2" x2="602.7" y2="344.8" stroke="#ffffff" stroke-width="1.101"/>
<line x1="602.7" y1="344.8" x2="608.5" y2="356.4" stroke="#ffffff" stroke-width="1.029"/>
<line x1="608.5" y1="356.4" x2="612.6" y2="349.8" stroke="#ffffff" stroke-width="0.977"/>
<line x1="612.6" y1="349.8" x2="617.6" y2="348.1" stroke="#ffffff" stroke-width="1.089"/>
<line x1="617.6" y1="348.1" x2="622.6" y2="335.7" stroke="#ffffff" stroke-width="1.067"/>
<line x1="622.6" y1="335.7" x2="626.7" y2="353.9" stroke="#ffffff" stroke-width="1.122"/>
<line x1="626.7" y1="353.9" x2="631.7" y2="364.3" stroke="#ffffff" stroke-width="1.036"/>
<line x1="631.7" y1="364.3" x2="635.5" y2="370.5" stroke="#ffffff" stroke-width="0.980"/>
<line x1="635.5" y1="370.5" x2="640.3" y2="372.7" stroke="#ffffff" stroke-width="1.045"/>
<line x1="640.3" y1="372.7" x2="645.2" y2="365.1" stroke="#ffffff" stroke-width="0.967"/>
<line x1="645.2" y1="365.1" x2="650.2" y2="369.4" stroke="#ffffff" stroke-width="0.872"/>
<line x1="650.2" y1="369.4" x2="655.2" y2="357.8" stroke="#ffffff" stroke-width="1.056"/>
<line x1="655.2" y1="357.8" x2="659.8" y2="352.8" stroke="#ffffff" stroke-width="0.846"/>
<line x1="659.8" y1="352.8" x2="664.8" y2="348.2" stroke="#ffffff" stroke-width="0.846"/>
<line x1="664.8" y1="348.2" x2="669.7" y2="344" stroke="#ffffff" stroke-width="0.873"/>
<line x1="669.7" y1="344" x2="674.7" y2="342.4" stroke="#ffffff" stroke-width="1.095"/>
<line x1="674.7" y1="342.4" x2="678.5" y2="340.2" stroke="#ffffff" stroke-width="0.995"/>
<line x1="678.5" y1="340.2" x2="683" y2="347.4" stroke="#ffffff" stroke-width="0.975"/>
<line x1="683" y1="347.4" x2="687.1" y2="361.4" stroke="#ffffff" stroke-width="1.104"/>
<line x1="687.1" y1="361.4" x2="692.1" y2="362.7" stroke="#ffffff" stroke-width="1.113"/>
<line x1="692.1" y1="362.7" x2="697.1" y2="341.6" stroke="#ffffff" stroke-width="1.119"/>
<line x1="697.1" y1="341.6" x2="701.2" y2="340.2" stroke="#ffffff" stroke-width="1.088"/>
<line x1="46.6" y1="403.7" x2="55.7" y2="391.6" stroke="#ffff00" stroke-width="0.919"/>
<line x1="55.7" y1="391.6" x2="60.3" y2="392.1" stroke="#ffff00" stroke-width="1.143"/>
<line x1="60.3" y1="392.1" x2="64.4" y2="393.3" stroke="#ffff00" stroke-width="1.104"/>
<line x1="64.4" y1="393.3" x2="69.4" y2="386.7" stroke="#ffff00" stroke-width="0.917"/>
<line x1="69.4" y1="386.7" x2="73.9" y2="384.3" stroke="#ffff00" stroke-width="1.015"/>
<line x1="73.9" y1="384.3" x2="78" y2="387.2" stroke="#ffff00" stroke-width="0.939"/>
<line x1="78" y1="387.2" x2="83" y2="388.3" stroke="#ffff00" stroke-width="1.123"/>
<line x1="83" y1="388.3" x2="88" y2="390.5" stroke="#ffff00" stroke-width="1.053"/>
<line x1="88" y1="390.5" x2="92.9" y2="387.2" stroke="#ffff00" stroke-width="0.954"/>
<line x1="92.9" y1="387.2" x2="97.9" y2="384.3" stroke="#ffff00" stroke-width="0.995"/>
<line x1="97.9" y1="384.3" x2="102.8" y2="381.4" stroke="#ffff00" stroke-width="0.990"/>
<line x1="102.8" y1="381.4" x2="106.5" y2="381.4" stroke="#ffff00" stroke-width="1.150"/>
<line x1="106.5" y1="381.4" x2="111.1" y2="385.5" stroke="#ffff00" stroke-width="0.858"/>
<line x1="111.1" y1="385.5" x2="116.1" y2="380" stroke="#ffff00" stroke-width="0.851"/>
<line x1="116.1" y1="380" x2="120.2" y2="381.4" stroke="#ffff00" stroke-width="1.088"/>
<line x1="120.2" y1="381.4" x2="125.7" y2="384.3" stroke="#ffff00" stroke-width="1.017"/>
<line x1="125.7" y1="384.3" x2="130.5" y2="375.6" stroke="#ffff00" stroke-width="1.007"/>
<line x1="130.5" y1="375.6" x2="135.1" y2="377.7" stroke="#ffff00" stroke-width="1.046"/>
<line x1="135.1" y1="377.7" x2="140.1" y2="378.9" stroke="#ffff00" stroke-width="1.118"/>
<line x1="140.1" y1="378.9" x2="145.1" y2="380" stroke="#ffff00" stroke-width="1.123"/>
<line x1="145.1" y1="380" x2="150" y2="384" stroke="#ffff00" stroke-width="0.891"/>
<line x1="150" y1="384" x2="155" y2="385.5" stroke="#ffff00" stroke-width="1.102"/>
<line x1="155" y1="385.5" x2="159.1" y2="386" stroke="#ffff00" stroke-width="1.142"/>
<line x1="159.1" y1="386" x2="163.2" y2="383" stroke="#ffff00" stroke-width="0.928"/>
<line x1="163.2" y1="383" x2="167.4" y2="383.8" stroke="#ffff00" stroke-width="1.130"/>
<line x1="167.4" y1="383.8" x2="172.4" y2="385.5" stroke="#ffff00" stroke-width="1.089"/>
<line x1="172.4" y1="385.5" x2="177.3" y2="378" stroke="#ffff00" stroke-width="0.963"/>
<line x1="177.3" y1="378" x2="181.5" y2="383.8" stroke="#ffff00" stroke-width="0.931"/>
<line x1="181.5" y1="383.8" x2="186.8" y2="376.4" stroke="#ffff00" stroke-width="0.935"/>
<line x1="186.8" y1="376.4" x2="191.4" y2="377.2" stroke="#ffff00" stroke-width="1.133"/>
<line x1="191.4" y1="377.2" x2="195.5" y2="367.8" stroke="#ffff00" stroke-width="1.054"/>
<line x1="195.5" y1="367.8" x2="199.7" y2="365.6" stroke="#ffff00" stroke-width="1.019"/>
<line x1="199.7" y1="365.6" x2="205.5" y2="359.5" stroke="#ffff00" stroke-width="0.833"/>
<line x1="205.5" y1="359.5" x2="209.6" y2="361.8" stroke="#ffff00" stroke-width="1.003"/>
<line x1="209.6" y1="361.8" x2="213.7" y2="361.2" stroke="#ffff00" stroke-width="1.138"/>
<line x1="213.7" y1="361.2" x2="216.2" y2="363.1" stroke="#ffff00" stroke-width="0.916"/>
<line x1="216.2" y1="363.1" x2="219.9" y2="367.3" stroke="#ffff00" stroke-width="0.863"/>
<line x1="219.9" y1="367.3" x2="224.5" y2="358.5" stroke="#ffff00" stroke-width="1.019"/>
<line x1="224.5" y1="358.5" x2="228.6" y2="360.2" stroke="#ffff00" stroke-width="1.062"/>
<line x1="228.6" y1="360.2" x2="233.6" y2="364.5" stroke="#ffff00" stroke-width="0.872"/>
<line x1="233.6" y1="364.5" x2="237.7" y2="362.3" stroke="#ffff00" stroke-width="1.013"/>
<line x1="237.7" y1="362.3" x2="241.9" y2="361.5" stroke="#ffff00" stroke-width="1.130"/>
<line x1="241.9" y1="361.5" x2="246.9" y2="365.6" stroke="#ffff00" stroke-width="0.889"/>
<line x1="246.9" y1="365.6" x2="251.8" y2="367.3" stroke="#ffff00" stroke-width="1.086"/>
<line x1="251.8" y1="367.3" x2="256.8" y2="371.1" stroke="#ffff00" stroke-width="0.916"/>
<line x1="256.8" y1="371.1" x2="261.8" y2="370.1" stroke="#ffff00" stroke-width="1.128"/>
<line x1="261.8" y1="370.1" x2="266.7" y2="368.1" stroke="#ffff00" stroke-width="1.065"/>
<line x1="266.7" y1="368.1" x2="270.9" y2="371.1" stroke="#ffff00" stroke-width="0.936"/>
<line x1="270.9" y1="371.1" x2="276.6" y2="364.9" stroke="#ffff00" stroke-width="0.847"/>
<line x1="276.6" y1="364.9" x2="280.8" y2="357.2" stroke="#ffff00" stroke-width="1.010"/>
<line x1="280.8" y1="357.2" x2="284.6" y2="348.9" stroke="#ffff00" stroke-width="1.046"/>
<line x1="284.6" y1="348.9" x2="289.9" y2="348.1" stroke="#ffff00" stroke-width="1.137"/>
<line x1="289.9" y1="348.1" x2="298.5" y2="340.2" stroke="#ffff00" stroke-width="0.847"/>
<line x1="298.5" y1="340.2" x2="303.9" y2="344" stroke="#ffff00" stroke-width="0.940"/>
<line x1="303.9" y1="344" x2="308.9" y2="346.1" stroke="#ffff00" stroke-width="1.060"/>
<line x1="308.9" y1="346.1" x2="313.4" y2="355.6" stroke="#ffff00" stroke-width="1.039"/>
<line x1="313.4" y1="355.6" x2="318" y2="352.7" stroke="#ffff00" stroke-width="0.973"/>
<line x1="318" y1="352.7" x2="322.6" y2="348.4" stroke="#ffff00" stroke-width="0.840"/>
<line x1="322.6" y1="348.4" x2="327.1" y2="346.8" stroke="#ffff00" stroke-width="1.084"/>
<line x1="327.1" y1="346.8" x2="330.4" y2="345.6" stroke="#ffff00" stroke-width="1.081"/>
<line x1="330.4" y1="345.6" x2="336.2" y2="344.5" stroke="#ffff00" stroke-width="1.130"/>
<line x1="336.2" y1="344.5" x2="341.5" y2="343.5" stroke="#ffff00" stroke-width="1.130"/>
<line x1="341.5" y1="343.5" x2="344.5" y2="347.3" stroke="#ffff00" stroke-width="0.903"/>
<line x1="344.5" y1="347.3" x2="349.5" y2="349.4" stroke="#ffff00" stroke-width="1.060"/>
<line x1="349.5" y1="349.4" x2="355.3" y2="344" stroke="#ffff00" stroke-width="0.842"/>
<line x1="355.3" y1="344" x2="359.4" y2="350.1" stroke="#ffff00" stroke-width="0.954"/>
<line x1="359.4" y1="350.1" x2="364.4" y2="349.4" stroke="#ffff00" stroke-width="1.139"/>
<line x1="364.4" y1="349.4" x2="369.3" y2="348.9" stroke="#ffff00" stroke-width="1.144"/>
<line x1="369.3" y1="348.9" x2="374" y2="347.3" stroke="#ffff00" stroke-width="1.089"/>
<line x1="374" y1="347.3" x2="378.4" y2="348.4" stroke="#ffff00" stroke-width="1.116"/>
<line x1="378.4" y1="348.4" x2="383.4" y2="348.1" stroke="#ffff00" stroke-width="1.148"/>
<line x1="383.4" y1="348.1" x2="388.4" y2="343.5" stroke="#ffff00" stroke-width="0.846"/>
<line x1="388.4" y1="343.5" x2="393.3" y2="339.5" stroke="#ffff00" stroke-width="0.891"/>
<line x1="393.3" y1="339.5" x2="397.5" y2="334.5" stroke="#ffff00" stroke-width="0.881"/>
<line x1="397.5" y1="334.5" x2="402.4" y2="334.9" stroke="#ffff00" stroke-width="1.146"/>
<line x1="402.4" y1="334.9" x2="406.6" y2="337.8" stroke="#ffff00" stroke-width="0.946"/>
<line x1="406.6" y1="337.8" x2="411.5" y2="343.1" stroke="#ffff00" stroke-width="0.844"/>
<line x1="411.5" y1="343.1" x2="416.5" y2="344.5" stroke="#ffff00" stroke-width="1.107"/>
<line x1="416.5" y1="344.5" x2="420.6" y2="351.8" stroke="#ffff00" stroke-width="1.003"/>
<line x1="420.6" y1="351.8" x2="425.1" y2="356.4" stroke="#ffff00" stroke-width="0.822"/>
<line x1="425.1" y1="356.4" x2="430.1" y2="354.4" stroke="#ffff00" stroke-width="1.068"/>
<line x1="430.1" y1="354.4" x2="434.7" y2="358.4" stroke="#ffff00" stroke-width="0.868"/>
<line x1="434.7" y1="358.4" x2="439.7" y2="357.2" stroke="#ffff00" stroke-width="1.118"/>
<line x1="439.7" y1="357.2" x2="444.3" y2="357.7" stroke="#ffff00" stroke-width="1.143"/>
<line x1="444.3" y1="357.7" x2="447.9" y2="368" stroke="#ffff00" stroke-width="1.086"/>
<line x1="447.9" y1="368" x2="452.9" y2="363.8" stroke="#ffff00" stroke-width="0.881"/>
<line x1="452.9" y1="363.8" x2="457.9" y2="362.7" stroke="#ffff00" stroke-width="1.123"/>
<line x1="457.9" y1="362.7" x2="462.8" y2="364.3" stroke="#ffff00" stroke-width="1.093"/>
<line x1="462.8" y1="364.3" x2="467" y2="365" stroke="#ffff00" stroke-width="1.134"/>
<line x1="467" y1="365" x2="472" y2="362.2" stroke="#ffff00" stroke-width="1.003"/>
<line x1="472" y1="362.2" x2="476.9" y2="357.7" stroke="#ffff00" stroke-width="0.847"/>
<line x1="476.9" y1="357.7" x2="481.4" y2="354.7" stroke="#ffff00" stroke-width="0.957"/>
<line x1="481.4" y1="354.7" x2="486" y2="363" stroke="#ffff00" stroke-width="1.006"/>
<line x1="486" y1="363" x2="491.3" y2="360.5" stroke="#ffff00" stroke-width="1.040"/>
<line x1="491.3" y1="360.5" x2="495.1" y2="367.2" stroke="#ffff00" stroke-width="1.000"/>
<line x1="495.1" y1="367.2" x2="500.1" y2="369.3" stroke="#ffff00" stroke-width="1.060"/>
<line x1="500.1" y1="369.3" x2="505.1" y2="371.3" stroke="#ffff00" stroke-width="1.068"/>
<line x1="505.1" y1="371.3" x2="509.2" y2="371.3" stroke="#ffff00" stroke-width="1.150"/>
<line x1="509.2" y1="371.3" x2="513.5" y2="364.9" stroke="#ffff00" stroke-width="0.955"/>
<line x1="513.5" y1="364.9" x2="519.1" y2="361" stroke="#ffff00" stroke-width="0.944"/>
<line x1="519.1" y1="361" x2="524.1" y2="367.6" stroke="#ffff00" stroke-width="0.917"/>
<line x1="524.1" y1="367.6" x2="528.5" y2="363.8" stroke="#ffff00" stroke-width="0.870"/>
<line x1="528.5" y1="363.8" x2="533.2" y2="360" stroke="#ffff00" stroke-width="0.894"/>
<line x1="533.2" y1="360" x2="537.3" y2="351.4" stroke="#ffff00" stroke-width="1.038"/>
<line x1="537.3" y1="351.4" x2="541.5" y2="346.8" stroke="#ffff00" stroke-width="0.849"/>
<line x1="541.5" y1="346.8" x2="546.1" y2="342.3" stroke="#ffff00" stroke-width="0.822"/>
<line x1="546.1" y1="342.3" x2="551.1" y2="340.2" stroke="#ffff00" stroke-width="1.060"/>
<line x1="551.1" y1="340.2" x2="556.4" y2="341.2" stroke="#ffff00" stroke-width="1.130"/>
<line x1="556.4" y1="341.2" x2="561.3" y2="338.5" stroke="#ffff00" stroke-width="1.007"/>
<line x1="561.3" y1="338.5" x2="565.5" y2="340.2" stroke="#ffff00" stroke-width="1.066"/>
<line x1="565.5" y1="340.2" x2="569.9" y2="340.2" stroke="#ffff00" stroke-width="1.150"/>
<line x1="569.9" y1="340.2" x2="575.4" y2="345.1" stroke="#ffff00" stroke-width="0.859"/>
<line x1="575.4" y1="345.1" x2="579.9" y2="342.3" stroke="#ffff00" stroke-width="0.976"/>
<line x1="579.9" y1="342.3" x2="584.5" y2="339.5" stroke="#ffff00" stroke-width="0.982"/>
<line x1="584.5" y1="339.5" x2="589.5" y2="340.7" stroke="#ffff00" stroke-width="1.118"/>
<line x1="589.5" y1="340.7" x2="594.4" y2="340.2" stroke="#ffff00" stroke-width="1.144"/>
<line x1="594.4" y1="340.2" x2="598.6" y2="339.5" stroke="#ffff00" stroke-width="1.134"/>
<line x1="598.6" y1="339.5" x2="602.7" y2="344.8" stroke="#ffff00" stroke-width="0.910"/>
<line x1="602.7" y1="344.8" x2="608.5" y2="349.4" stroke="#ffff00" stroke-width="0.901"/>
<line x1="608.5" y1="349.4" x2="612.6" y2="346.5" stroke="#ffff00" stroke-width="0.939"/>
<line x1="612.6" y1="346.5" x2="617.6" y2="346.1" stroke="#ffff00" stroke-width="1.146"/>
<line x1="617.6" y1="346.1" x2="622.6" y2="340.2" stroke="#ffff00" stroke-width="0.877"/>
<line x1="622.6" y1="340.2" x2="626.7" y2="348.9" stroke="#ffff00" stroke-width="1.040"/>
<line x1="626.7" y1="348.9" x2="631.7" y2="355.6" stroke="#ffff00" stroke-width="0.922"/>
<line x1="631.7" y1="355.6" x2="635.5" y2="359.8" stroke="#ffff00" stroke-width="0.853"/>
<line x1="635.5" y1="359.8" x2="640.3" y2="360.1" stroke="#ffff00" stroke-width="1.148"/>
<line x1="640.3" y1="360.1" x2="645.2" y2="357.8" stroke="#ffff00" stroke-width="1.041"/>
<line x1="645.2" y1="357.8" x2="650.2" y2="360.1" stroke="#ffff00" stroke-width="1.045"/>
<line x1="650.2" y1="360.1" x2="655.2" y2="355.6" stroke="#ffff00" stroke-width="0.855"/>
<line x1="655.2" y1="355.6" x2="659.8" y2="353.1" stroke="#ffff00" stroke-width="1.010"/>
<line x1="659.8" y1="353.1" x2="664.8" y2="350.7" stroke="#ffff00" stroke-width="1.037"/>
<line x1="664.8" y1="350.7" x2="669.7" y2="349" stroke="#ffff00" stroke-width="1.086"/>
<line x1="669.7" y1="349" x2="674.7" y2="347.8" stroke="#ffff00" stroke-width="1.118"/>
<line x1="674.7" y1="347.8" x2="678.5" y2="347.4" stroke="#ffff00" stroke-width="1.144"/>
<line x1="678.5" y1="347.4" x2="683" y2="349.5" stroke="#ffff00" stroke-width="1.042"/>
<line x1="683" y1="349.5" x2="687.1" y2="355.1" stroke="#ffff00" stroke-width="0.928"/>
<line x1="687.1" y1="355.1" x2="692.1" y2="356.1" stroke="#ffff00" stroke-width="1.128"/>
<line x1="692.1" y1="356.1" x2="697.1" y2="347.8" stroke="#ffff00" stroke-width="0.985"/>
<line x1="697.1" y1="347.8" x2="701.2" y2="346.2" stroke="#ffff00" stroke-width="1.071"/>
<line x1="157" y1="391.51" x2="771.5" y2="376.51" stroke="#ff00ff" stroke-width="2"/>
<line x1="640" y1="373" x2="768" y2="349" stroke="#ff00ff" stroke-width="2"/>
<rect x="723" y="17" width="50" height="17" fill="#ffffff"/>
<rect x="724" y="18" width="48" height="15" fill="#000"/>
</g>
<g font-family="'Liberation Sans','Noto Sans CJK SC',sans-serif">
<text transform="translate(17,12.2) scale(1,0.77)" font-size="16" fill="#ffff00" stroke="#ffff00" stroke-width="0.13" x="0.2 18.3 36.6 53.5 70 73.5 92.5 111.4 129.3 146.5 150.2 167.1" y="0">美元指数(外汇交易)日线</text>
<text x="625 637 649 661" y="208" font-size="12" fill="#000">如再跌破</text>
<text transform="translate(673.2,207.8) scale(0.857,1)" font-size="11.7" fill="#000" x="0 7 15.64 21 29.64 35 42" y="0">83.6/80</text>
<text x="625 637 649 661 673" y="224.5" font-size="12" fill="#000">则形态失败</text>
</g>
<g>
<text transform="translate(728,30) scale(0.9,1)" fill="#00ff00" font-family="Liberation Sans" font-size="12" font-weight="normal" stroke="#00ff00" stroke-width="0.15" >84.67</text>
<text transform="translate(725.6,110) scale(0.9,1)" fill="#e40000" font-family="Liberation Sans" font-size="12" font-weight="normal" stroke="#e40000" stroke-width="0.15" >86.00</text>
<text transform="translate(725.6,172) scale(0.9,1)" fill="#e40000" font-family="Liberation Sans" font-size="12" font-weight="normal" stroke="#e40000" stroke-width="0.15" >84.00</text>
<text transform="translate(725.6,235) scale(0.9,1)" fill="#e40000" font-family="Liberation Sans" font-size="12" font-weight="normal" stroke="#e40000" stroke-width="0.15" >82.00</text>
<text transform="translate(725.6,329) scale(0.9,1)" fill="#e40000" font-family="Liberation Sans" font-size="12" font-weight="normal" stroke="#e40000" stroke-width="0.15" >80</text>
<text transform="translate(725.6,359) scale(0.9,1)" fill="#e40000" font-family="Liberation Sans" font-size="12" font-weight="normal" stroke="#e40000" stroke-width="0.15" >50</text>
<text transform="translate(725.6,389) scale(0.9,1)" fill="#e40000" font-family="Liberation Sans" font-size="12" font-weight="normal" stroke="#e40000" stroke-width="0.15" >20</text>
<text transform="translate(6.2,299) scale(0.885,1)" fill="#ffff00" font-family="Liberation Sans" font-size="12" font-weight="normal" stroke="#ffff00" stroke-width="0.15" >RSI(7,14)</text>
<text transform="translate(142,299) scale(0.885,1)" fill="#ffffff" font-family="Liberation Sans" font-size="12" font-weight="normal" stroke="#ffffff" stroke-width="0.15" >RSI1:64.74</text>
<text transform="translate(247.6,299) scale(0.875,1)" fill="#ffff00" font-family="Liberation Sans" font-size="12" font-weight="normal" stroke="#ffff00" stroke-width="0.15" >RSI2:58.71</text>
<text x="51.2" y="420" fill="#fff" font-family="Liberation Mono" font-weight="bold" font-size="13.3" textLength="38.4" lengthAdjust="spacing">11/01</text>
<text x="121.47" y="420" fill="#fff" font-family="Liberation Mono" font-weight="bold" font-size="13.3" textLength="38.4" lengthAdjust="spacing">11/22</text>
<text x="191.74" y="420" fill="#fff" font-family="Liberation Mono" font-weight="bold" font-size="13.3" textLength="38.4" lengthAdjust="spacing">12/13</text>
<text x="262.01" y="420" fill="#fff" font-family="Liberation Mono" font-weight="bold" font-size="13.3" textLength="38.4" lengthAdjust="spacing">01/03</text>
<text x="332.28" y="420" fill="#fff" font-family="Liberation Mono" font-weight="bold" font-size="13.3" textLength="38.4" lengthAdjust="spacing">01/24</text>
<text x="402.55" y="420" fill="#fff" font-family="Liberation Mono" font-weight="bold" font-size="13.3" textLength="38.4" lengthAdjust="spacing">02/14</text>
<text x="472.82" y="420" fill="#fff" font-family="Liberation Mono" font-weight="bold" font-size="13.3" textLength="38.4" lengthAdjust="spacing">03/07</text>
<text x="543.09" y="420" fill="#fff" font-family="Liberation Mono" font-weight="bold" font-size="13.3" textLength="38.4" lengthAdjust="spacing">03/28</text>
<text x="613.36" y="420" fill="#fff" font-family="Liberation Mono" font-weight="bold" font-size="13.3" textLength="38.4" lengthAdjust="spacing">04/18</text>
<text x="683.63" y="420" fill="#fff" font-family="Liberation Mono" font-weight="bold" font-size="13.3" textLength="38.4" lengthAdjust="spacing">05/09</text>
</g>
<g shape-rendering="crispEdges">
<line x1="653.9" y1="189" x2="739.5" y2="93.4" stroke="#ffff00" stroke-width="0.857"/>
<rect x="0" y="0" width="773" height="2" fill="#ff0000"/>
</g>
</svg>
</body></html>
